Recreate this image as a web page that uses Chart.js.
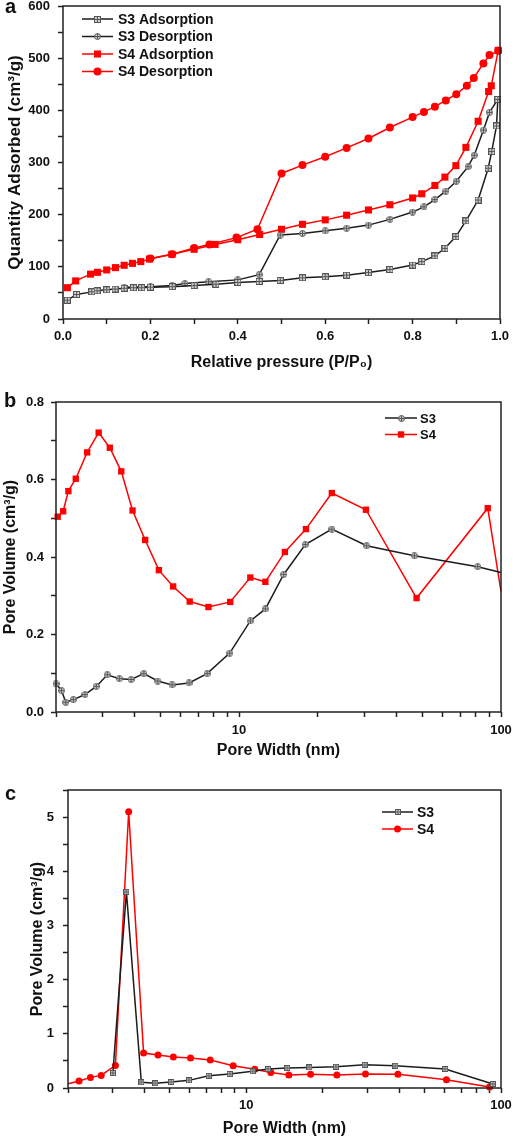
<!DOCTYPE html>
<html>
<head>
<meta charset="utf-8">
<script src="https://cdn.jsdelivr.net/npm/chart.js@4/dist/chart.umd.min.js"></script>
<style>
body{margin:0;background:#fff}
#wrap{position:relative;width:516px;height:1139px;overflow:hidden}
canvas{position:absolute;left:0}
.lbl{position:absolute;font:bold 20px "Liberation Sans",Arial,sans-serif;line-height:20px;color:#111}
</style>
</head>
<body>
<div id="wrap">
<canvas id="chartA" width="516" height="375" style="top:0"></canvas>
<canvas id="chartB" width="516" height="395" style="top:380px"></canvas>
<canvas id="chartC" width="516" height="359" style="top:780px"></canvas>
<div class="lbl" style="left:5px;top:-4px">a</div>
<div class="lbl" style="left:4px;top:390px">b</div>
<div class="lbl" style="left:5px;top:783px">c</div>
</div>
<script>

// panel a : isotherms
const s3AdsX=[0.01,0.031,0.066,0.078,0.1,0.119,0.14,0.161,0.18,0.2,0.25,0.3,0.35,0.4,0.449,0.497,0.548,0.6,0.649,0.699,0.748,0.8,0.821,0.851,0.874,0.899,0.922,0.95,0.973,0.981,0.992,0.995]
const s3AdsY=[36,47,52,54,56,57.5,59,60,60,61,62,64,66.5,70,72,74,79,81,84,89,95,103.5,110,121,135.5,158,188,228,289,321,370,421]
const s3DesX=[0.995,0.976,0.962,0.941,0.927,0.9,0.876,0.851,0.826,0.8,0.748,0.699,0.649,0.6,0.548,0.497,0.449,0.4,0.333,0.279,0.25,0.2,0.14]
const s3DesY=[421,396,362,314,292,264,245,229,215,205,191,180,174,169,164,161,85,75,71.5,68,64,62,60.7]
const s4AdsX=[0.01,0.029,0.063,0.079,0.1,0.12,0.14,0.159,0.178,0.198,0.249,0.3,0.348,0.4,0.45,0.5,0.548,0.6,0.649,0.699,0.748,0.8,0.821,0.851,0.874,0.899,0.922,0.95,0.974,0.98,0.996]
const s4AdsY=[60,73,86,89.5,94,98.5,103,106.7,110,115,124,133.6,143,152,162,172,181.5,190,199,209,219,232,240,256,272,294,329,379,436,447,515]
const s4DesX=[0.996,0.976,0.962,0.94,0.924,0.9,0.876,0.851,0.826,0.8,0.748,0.699,0.649,0.6,0.548,0.5,0.445,0.397,0.335,0.3,0.25,0.2]
const s4DesY=[514,506,490,462,447,431,419,407,397,387,367,346,328,311,295,279,172,156,143,136,124,116]

// panel b : pore size distribution
const bS3X=[2.0,2.1,2.18,2.33,2.58,2.85,3.14,3.49,3.87,4.33,4.89,5.55,6.44,7.55,9.21,11.04,12.6,14.8,17.9,22.6,30.7,46.7,81.5,100]
const bS3Y=[0.073,0.055,0.025,0.032,0.045,0.066,0.096,0.086,0.084,0.099,0.080,0.070,0.075,0.099,0.152,0.235,0.266,0.355,0.432,0.472,0.429,0.403,0.375,0.360]
const bS4X=[2.03,2.13,2.23,2.38,2.63,2.91,3.21,3.55,3.92,4.38,4.94,5.60,6.48,7.64,9.25,11.04,12.6,14.96,18.0,22.6,30.5,47.6,89,100]
const bS4Y=[0.504,0.518,0.570,0.602,0.670,0.721,0.682,0.621,0.520,0.444,0.366,0.324,0.285,0.271,0.284,0.347,0.336,0.413,0.472,0.565,0.522,0.294,0.526,0.311]

// panel c
const cS3X=[3.0,3.39,3.88,4.40,5.08,5.97,7.13,8.62,10.6,12.2,14.5,17.7,22.5,29.2,38.5,60.4,92.9]
const cS3Y=[0.276,3.62,0.104,0.086,0.110,0.141,0.227,0.258,0.307,0.350,0.368,0.380,0.393,0.429,0.411,0.350,0.074]
const cS4X=[2.0,2.21,2.45,2.70,3.07,3.46,3.96,4.51,5.18,6.05,7.23,8.89,10.8,12.5,14.7,17.9,22.7,29.4,39.4,61.1,90.2]
const cS4Y=[0.08,0.129,0.196,0.233,0.417,5.10,0.644,0.607,0.571,0.552,0.515,0.411,0.344,0.288,0.239,0.252,0.239,0.258,0.252,0.153,0.018]

// ticks
const aXTicks=[0,0.1,0.2,0.3,0.4,0.5,0.6,0.7,0.8,0.9,1.0]
const aXLabels=[0,0.2,0.4,0.6,0.8,1.0]
const aYTicks=[0,50,100,150,200,250,300,350,400,450,500,550,600]
const aYLabels=[0,100,200,300,400,500,600]
const bYTicks=[0,0.1,0.2,0.3,0.4,0.5,0.6,0.7,0.8]
const bYLabels=[0,0.2,0.4,0.6,0.8]
const cYTicks=[0,0.5,1,1.5,2,2.5,3,3.5,4,4.5,5,5.5]
const cYLabels=[0,1,2,3,4,5]
const logTicks=[2,3,4,5,6,7,8,9,10,20,30,40,50,60,70,80,90,100]
const logLabels=[10,100]


Chart.defaults.font.family="'Liberation Sans', Arial, sans-serif"
Chart.defaults.color="#111"

const RED="#ff0000"
const BLACK="#1c1c1c"

function crossMarker(shape,size){
const c=document.createElement("canvas")
c.width=size
c.height=size
const g=c.getContext("2d")
const h=size/2
g.fillStyle="#cfcfcf"
g.strokeStyle="#555"
g.lineWidth=1
if(shape=="rect"){
g.fillRect(0.5,0.5,size-1,size-1)
g.strokeRect(0.5,0.5,size-1,size-1)
}else{
g.beginPath()
g.arc(h,h,h-0.5,0,Math.PI*2)
g.fill()
g.stroke()
}
g.beginPath()
g.moveTo(h,1)
g.lineTo(h,size-1)
g.moveTo(1,h)
g.lineTo(size-1,h)
g.stroke()
return c
}

function pts(xs,ys){
return xs.map((x,i)=>({x:x,y:ys[i]}))
}

function series(label,xs,ys,color,mark,radius,hide){
return {
label:label,
data:pts(xs,ys),
borderColor:color,
borderWidth:1.5,
backgroundColor:color,
pointBackgroundColor:color,
pointBorderColor:color,
pointBorderWidth:0,
pointRadius:radius,
pointHoverRadius:radius,
mark:mark,
pointStyle:c=>(hide && hide(c.raw)) ? false : mark,
tension:0,
fill:false,
clip:false
}
}

// frame round the plot
const frame={
id:"frame",
afterDatasetsDraw(chart){
const ctx=chart.ctx
const a=chart.chartArea
ctx.save()
ctx.strokeStyle="#222"
ctx.lineWidth=1.5
ctx.strokeRect(a.left,a.top,a.right-a.left,a.bottom-a.top)
ctx.restore()
}
}

// legend drawn inside the plot : line - marker - line, then label
const insideLegend={
id:"insideLegend",
afterDraw(chart,args,o){
const ctx=chart.ctx
const a=chart.chartArea
ctx.save()
chart.data.datasets.forEach((ds,i)=>{
const x=a.left+o.x
const y=a.top+o.y+i*o.dy
ctx.strokeStyle=ds.borderColor
ctx.lineWidth=1.5
ctx.beginPath()
ctx.moveTo(x,y)
ctx.lineTo(x+o.len,y)
ctx.stroke()
const mx=x+o.len/2
const m=ds.mark
ctx.fillStyle=ds.pointBackgroundColor
if(typeof m=="object"){
ctx.drawImage(m,Math.round(mx-m.width/2),Math.round(y-m.height/2))
}else if(m=="rect"){
const s=Math.SQRT1_2*ds.pointRadius
ctx.fillRect(mx-s,y-s,2*s,2*s)
}else{
ctx.beginPath()
ctx.arc(mx,y,ds.pointRadius,0,Math.PI*2)
ctx.fill()
}
ctx.fillStyle="#111"
ctx.font="bold "+o.size+"px 'Liberation Sans', Arial, sans-serif"
ctx.textBaseline="middle"
ctx.textAlign="left"
ctx.fillText(ds.label,x+o.len+o.gap,y+1)
})
ctx.restore()
}
}

function axis(o){
return {
type:o.type || "linear",
position:o.position,
min:o.min,
max:o.max,
border:{display:false},
grid:{drawOnChartArea:false,drawTicks:true,tickLength:5,tickColor:"#222",tickWidth:1.5},
afterBuildTicks:s=>{ s.ticks=o.ticks.map(v=>({value:v})) },
ticks:{
autoSkip:false,
maxRotation:0,
padding:o.pad,
color:"#111",
font:{size:13,weight:"bold"},
callback:v=>o.labels.includes(v) ? o.fmt(v) : ""
},
title:{
display:true,
text:o.title,
color:"#111",
font:{size:o.tsize,weight:"bold"},
padding:o.tpad
},
afterFit:s=>{
if(o.position=="left") s.width=o.size
else s.height=o.size
// the plot edges come from layout padding only
s.paddingTop=0
s.paddingBottom=0
s.paddingLeft=0
s.paddingRight=0
}
}
}

function makeChart(id,datasets,xAxis,yAxis,pad,legend){
return new Chart(document.getElementById(id),{
type:"line",
data:{datasets:datasets},
options:{
responsive:false,
animation:false,
devicePixelRatio:1,
layout:{padding:pad},
plugins:{
legend:{display:false},
tooltip:{enabled:false},
insideLegend:legend
},
scales:{x:xAxis,y:yAxis}
},
plugins:[frame,insideLegend]
})
}

const sqA=crossMarker("rect",7)
const ciA=crossMarker("circle",7)
const ciB=crossMarker("circle",7)
const sqC=crossMarker("rect",6)

const atEdge=p=>p.x>=100

makeChart("chartA",[
series("S3 Adsorption",s3AdsX,s3AdsY,BLACK,sqA,3.5),
series("S3 Desorption",s3DesX,s3DesY,BLACK,ciA,3.5),
series("S4 Adsorption",s4AdsX,s4AdsY,RED,"rect",5),
series("S4 Desorption",s4DesX,s4DesY,RED,"circle",4)
],
axis({position:"bottom",min:0,max:1,ticks:aXTicks,labels:aXLabels,fmt:v=>v.toFixed(1),pad:5,
title:"Relative pressure (P/P\u2080)",tsize:16,tpad:{top:0,bottom:3},size:56}),
axis({position:"left",min:0,max:600,ticks:aYTicks,labels:aYLabels,fmt:v=>String(v),pad:8,
title:"Quantity Adsorbed (cm\u00b3/g)",tsize:17,tpad:{top:5,bottom:0},size:63}),
{top:6,right:16,left:0,bottom:0},
{x:19,y:13,dy:17.5,len:31,gap:5,size:14}
)

makeChart("chartB",[
series("S3",bS3X,bS3Y,BLACK,ciB,3.5,atEdge),
series("S4",bS4X,bS4Y,RED,"rect",4.5,atEdge)
],
axis({type:"logarithmic",position:"bottom",min:2,max:100,ticks:logTicks,labels:logLabels,fmt:v=>String(v),pad:6,
title:"Pore Width (nm)",tsize:16,tpad:{top:0,bottom:15},size:63}),
axis({position:"left",min:0,max:0.8,ticks:bYTicks,labels:bYLabels,fmt:v=>v.toFixed(1),pad:7,
title:"Pore Volume (cm\u00b3/g)",tsize:16,tpad:{top:1,bottom:0},size:56}),
{top:22,right:15,left:0,bottom:0},
{x:329,y:16,dy:16.5,len:32,gap:3,size:13}
)

makeChart("chartC",[
series("S3",cS3X,cS3Y,BLACK,sqC,3,atEdge),
series("S4",cS4X,cS4Y,RED,"circle",3.5,p=>p.x<=2 || p.x>=100)
],
axis({type:"logarithmic",position:"bottom",min:2,max:100,ticks:logTicks,labels:logLabels,fmt:v=>String(v),pad:5,
title:"Pore Width (nm)",tsize:16,tpad:{top:0,bottom:1},size:51}),
axis({position:"left",min:0,max:5.5,ticks:cYTicks,labels:cYLabels,fmt:v=>String(v),pad:9,
title:"Pore Volume (cm\u00b3/g)",tsize:16,tpad:{top:28,bottom:0},size:68}),
{top:10,right:15,left:0,bottom:0},
{x:314,y:22,dy:17,len:31,gap:4,size:14}
)

</script>
</body>
</html>
